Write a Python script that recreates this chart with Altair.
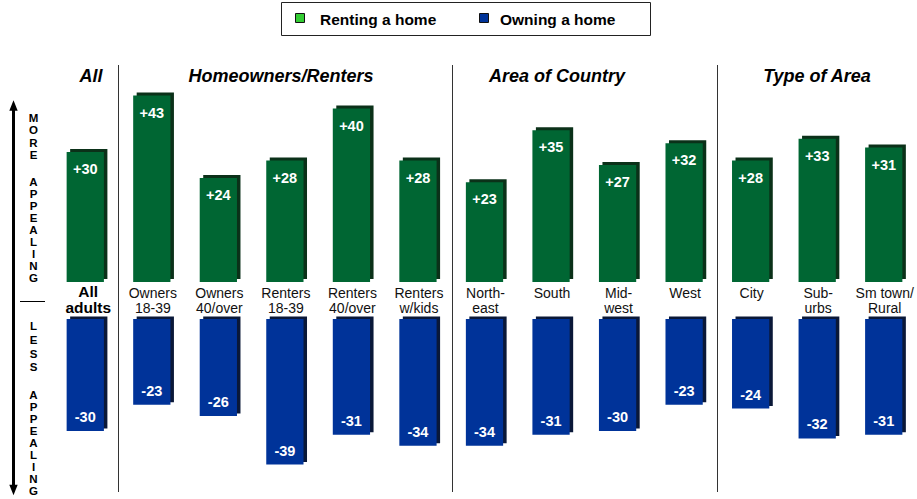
import altair as alt
import pandas as pd

categories = ["All adults", "Owners 18-39", "Owners 40/over", "Renters 18-39",
              "Renters 40/over", "Renters w/kids", "North-east", "South",
              "Mid-west", "West", "City", "Sub-urbs", "Sm town/Rural"]
cat_labels = ["All\nadults", "Owners\n18-39", "Owners\n40/over", "Renters\n18-39",
              "Renters\n40/over", "Renters\nw/kids", "North-\neast", "South",
              "Mid-\nwest", "West", "City", "Sub-\nurbs", "Sm town/\nRural"]
renting = [30, 43, 24, 28, 40, 28, 23, 35, 27, 32, 28, 33, 31]
owning = [-30, -23, -26, -39, -31, -34, -34, -31, -30, -23, -24, -32, -31]
series_names = ["Renting a home", "Owning a home"]
group_titles = ["All", "Homeowners/Renters", "Area of Country", "Type of Area"]

df = pd.DataFrame({"cat": categories, "label": cat_labels,
                   "renting": renting, "owning": owning})

GREEN = "#006633"
GREEN_DARK = "#0b3119"
BLUE = "#003399"
BLUE_DARK = "#0a1838"
FONT = "Liberation Sans"

X = alt.X("cat:N", sort=categories, axis=None,
          scale=alt.Scale(domain=categories, range=[52, 917],
                          paddingInner=0.44, paddingOuter=0.22))

base = alt.Chart(df)

yg = alt.Y("renting:Q", axis=None,
           scale=alt.Scale(domain=[0, 43], range=[282, 95.5], nice=False, zero=True))
yb = alt.Y("owning:Q", axis=None,
           scale=alt.Scale(domain=[-39, 0], range=[464.5, 319], nice=False, zero=True))

green_shadow = base.mark_bar(color=GREEN_DARK, xOffset=3.5, x2Offset=3.5,
                             yOffset=-3, y2Offset=-3).encode(x=X, y=yg, y2=alt.datum(0))
green_bar = base.mark_bar(color=GREEN).encode(x=X, y=yg, y2=alt.datum(0))
green_lab = base.transform_calculate(t="'+' + datum.renting").mark_text(
    font=FONT, fontSize=14.5, fontWeight="bold", color="white", baseline="middle", dy=18
).encode(x=X, y=yg, text="t:N")

blue_shadow = base.mark_bar(color=BLUE_DARK, xOffset=3.5, x2Offset=3.5,
                            yOffset=-2.5, y2Offset=-2.5).encode(x=X, y=yb, y2=alt.datum(0))
blue_bar = base.mark_bar(color=BLUE).encode(x=X, y=yb, y2=alt.datum(0))
blue_lab = base.transform_calculate(t="'' + datum.owning").mark_text(
    font=FONT, fontSize=14.5, fontWeight="bold", color="white", baseline="middle", dy=-13
).encode(x=X, y=yb, text="t:N")

cat_text = base.transform_filter(alt.datum.cat != categories[0]).mark_text(
    font=FONT, fontSize=14, color="#111", lineBreak="\n", lineHeight=15,
    baseline="alphabetic", dx=1
).encode(x=X, y=alt.value(298), text="label:N")
all_text = base.transform_filter(alt.datum.cat == categories[0]).mark_text(
    font=FONT, fontSize=15.5, fontWeight="bold", color="black", lineBreak="\n",
    lineHeight=15.5, baseline="alphabetic", dx=3
).encode(x=X, y=alt.value(297), text="label:N")

# separators
seps = [alt.Chart(df.head(1)).mark_rule(color="#333", strokeWidth=1).encode(
    x=alt.value(xv), y=alt.value(65), y2=alt.value(492)) for xv in (118.5, 452.5, 717.5)]

# group titles
title_x = [91, 281, 557, 817]
titles = [alt.Chart(df.head(1)).mark_text(
    font=FONT, fontSize=18, fontWeight="bold", fontStyle="italic", color="black",
    baseline="alphabetic", align="center").encode(
    x=alt.value(xv), y=alt.value(82), text=alt.value(t)) for t, xv in zip(group_titles, title_x)]

# legend
leg_box = alt.Chart(df.head(1)).mark_rect(fill="white", stroke="#222", strokeWidth=1).encode(
    x=alt.value(281.5), x2=alt.value(650.5), y=alt.value(2.5), y2=alt.value(35.5))
leg_sw1 = alt.Chart(df.head(1)).mark_rect(fill="#33cc33", stroke="#111", strokeWidth=1).encode(
    x=alt.value(295.5), x2=alt.value(304.5), y=alt.value(13.5), y2=alt.value(22.5))
leg_sw2 = alt.Chart(df.head(1)).mark_rect(fill=BLUE, stroke="#111", strokeWidth=1).encode(
    x=alt.value(479.5), x2=alt.value(488.5), y=alt.value(13.5), y2=alt.value(22.5))
leg_t1 = alt.Chart(df.head(1)).mark_text(font=FONT, fontSize=15.5, fontWeight="bold",
                                         align="left", baseline="alphabetic").encode(
    x=alt.value(320), y=alt.value(24.5), text=alt.value(series_names[0]))
leg_t2 = alt.Chart(df.head(1)).mark_text(font=FONT, fontSize=15.5, fontWeight="bold",
                                         align="left", baseline="alphabetic").encode(
    x=alt.value(500), y=alt.value(24.5), text=alt.value(series_names[1]))

# left arrow and side text
shaft = alt.Chart(df.head(1)).mark_rule(color="black", strokeWidth=3).encode(
    x=alt.value(13.5), y=alt.value(106), y2=alt.value(489))
head_up = alt.Chart(df.head(1)).mark_point(shape="M0,-1L0.8,1L-0.8,1Z", filled=True,
                                           size=110, color="black", opacity=1).encode(
    x=alt.value(13.5), y=alt.value(105.5))
head_dn = alt.Chart(df.head(1)).mark_point(shape="M0,1L0.8,-1L-0.8,-1Z", filled=True,
                                           size=110, color="black", opacity=1).encode(
    x=alt.value(13.5), y=alt.value(490))
mid_line = alt.Chart(df.head(1)).mark_rule(color="black", strokeWidth=1).encode(
    x=alt.value(20), x2=alt.value(45), y=alt.value(301.5))


def stacked(word, y0, lh):
    return alt.Chart(df.head(1)).mark_text(
        font=FONT, fontSize=11.5, fontWeight="bold", color="black", align="center",
        baseline="alphabetic", lineBreak="\n", lineHeight=lh).encode(
        x=alt.value(33.5), y=alt.value(y0), text=alt.value("\n".join(word)))


side = [stacked("MORE", 122, 12.4), stacked("APPEALING", 185.5, 12.0),
        stacked("LESS", 330, 13.8), stacked("APPEALING", 398.5, 12.0)]

layers = ([leg_box, leg_sw1, leg_sw2, leg_t1, leg_t2] + seps + titles +
          [green_shadow, green_bar, green_lab, blue_shadow, blue_bar, blue_lab,
           cat_text, all_text, shaft, head_up, head_dn, mid_line] + side)

chart = alt.layer(*layers).resolve_scale(y="independent").properties(
    width=917, height=499,
    autosize=alt.AutoSizeParams(type="none"),
    padding=0,
    background="white",
).configure_view(stroke=None)

chart.save("out.html", embed_options={"renderer": "svg", "actions": False})
